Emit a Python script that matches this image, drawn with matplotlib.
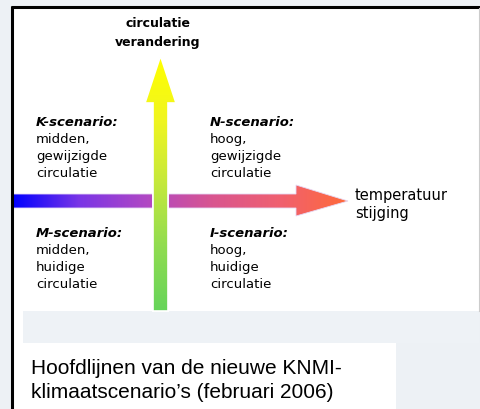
import numpy as np
import matplotlib
matplotlib.use("Agg")
import matplotlib.pyplot as plt
from matplotlib.patches import Polygon, Rectangle
from matplotlib.colors import LinearSegmentedColormap

# ---- content ----
vertical_axis_label = ["circulatie", "verandering"]
horizontal_axis_label = ["temperatuur", "stijging"]
scenario_names = ["K-scenario:", "N-scenario:", "M-scenario:", "I-scenario:"]
scenario_lines = [["midden,", "gewijzigde", "circulatie"],
                  ["hoog,", "gewijzigde", "circulatie"],
                  ["midden,", "huidige", "circulatie"],
                  ["hoog,", "huidige", "circulatie"]]
caption = ["Hoofdlijnen van de nieuwe KNMI-", "klimaatscenario\u2019s (februari 2006)"]

# gradient colours
h_colors = ["#0000ff", "#7a35e6", "#b048c4", "#d9558f", "#f06070", "#ff6a3a"]
v_colors = ["#ffff00", "#f0f520", "#c4e83c", "#90dc50", "#66d45a"]

W, H = 480, 410
fig = plt.figure(figsize=(W / 100, H / 100), dpi=100)
ax = fig.add_axes([0, 0, 1, 1])
ax.set_xlim(0, W)
ax.set_ylim(H, 0)
ax.axis("off")
fig.patch.set_facecolor("#edf1f5")

# panel
ax.add_patch(Rectangle((12, 8), 467, 304, facecolor="white", edgecolor="none", zorder=1))
ax.add_patch(Rectangle((12, 8), 11, 402, facecolor="white", edgecolor="none", zorder=1))
ax.add_patch(Rectangle((23, 312), 456, 32, facecolor="#eef2f6", edgecolor="none", zorder=1))
ax.add_patch(Rectangle((23, 344), 373, 66, facecolor="white", edgecolor="none", zorder=1))
ax.plot([11, 480], [8, 8], color="black", lw=2.2, zorder=5, solid_capstyle="butt")
ax.plot([11.5, 11.5], [7, 410], color="black", lw=2.2, zorder=5, solid_capstyle="butt")
ax.plot([479, 479], [9, 312], color="#cccccc", lw=0.8, zorder=5)

# horizontal arrow (gradient)
hcmap = LinearSegmentedColormap.from_list("h", h_colors)
hx0, hx1, hxh = 12, 348, 296
hy = 202
hpoly = Polygon([(hx0, 195), (hxh, 195), (hxh, 186), (hx1, hy), (hxh, 217),
                 (hxh, 209), (hx0, 209)], closed=True, facecolor="none",
                edgecolor="none", zorder=2)
ax.add_patch(hpoly)
grad = np.linspace(0, 1, 256).reshape(1, -1)
im = ax.imshow(grad, cmap=hcmap, extent=[hx0, hx1, 220, 183], aspect="auto",
               zorder=2, interpolation="bilinear")
im.set_clip_path(hpoly)
ax.add_patch(Polygon(hpoly.get_xy(), closed=True, facecolor="none",
                     edgecolor="#e6d8f5", lw=0.6, zorder=2.2))

# vertical arrow (gradient)
vcmap = LinearSegmentedColormap.from_list("v", v_colors)
vx = 160.5
vpoly = Polygon([(153, 312), (153, 104), (145, 104), (vx, 57), (176, 104),
                 (168, 104), (168, 312)], closed=True, facecolor="none",
                edgecolor="white", lw=1.2, zorder=3)
ax.add_patch(vpoly)
vgrad = np.linspace(0, 1, 256).reshape(-1, 1)
im2 = ax.imshow(vgrad, cmap=vcmap, extent=[140, 180, 312, 57], aspect="auto",
                zorder=3, interpolation="bilinear")
im2.set_clip_path(vpoly)
ax.add_patch(Polygon(vpoly.get_xy(), closed=True, facecolor="none", edgecolor="white",
                     lw=1.2, zorder=3.5))

font = "DejaVu Sans"
fs = 9.5
# axis labels
ax.text(158, 27, vertical_axis_label[0], ha="center", va="baseline", fontsize=9.0,
        fontweight="bold", family=font, zorder=6)
ax.text(158, 46, vertical_axis_label[1], ha="center", va="baseline", fontsize=9.0,
        fontweight="bold", family=font, zorder=6)
ax.text(355, 200, horizontal_axis_label[0], ha="left", va="baseline", fontsize=10.5,
        family=font, zorder=6)
ax.text(355, 218, horizontal_axis_label[1], ha="left", va="baseline", fontsize=10.5,
        family=font, zorder=6)

# scenario blocks
pos = [(36, 126), (210, 126), (36, 237), (210, 237)]
for (x, y), name, lines in zip(pos, scenario_names, scenario_lines):
    ax.text(x, y, name, ha="left", va="baseline", fontsize=fs, fontweight="bold",
            fontstyle="italic", family=font, zorder=6)
    for i, ln in enumerate(lines):
        ax.text(x, y + 17 * (i + 1), ln, ha="left", va="baseline", fontsize=fs,
                family=font, zorder=6)

# caption
for i, ln in enumerate(caption):
    ax.text(31, 374 + 24 * i, ln, ha="left", va="baseline", fontsize=15,
            family="Liberation Sans", zorder=6)

fig.savefig("out.png", dpi=100)
